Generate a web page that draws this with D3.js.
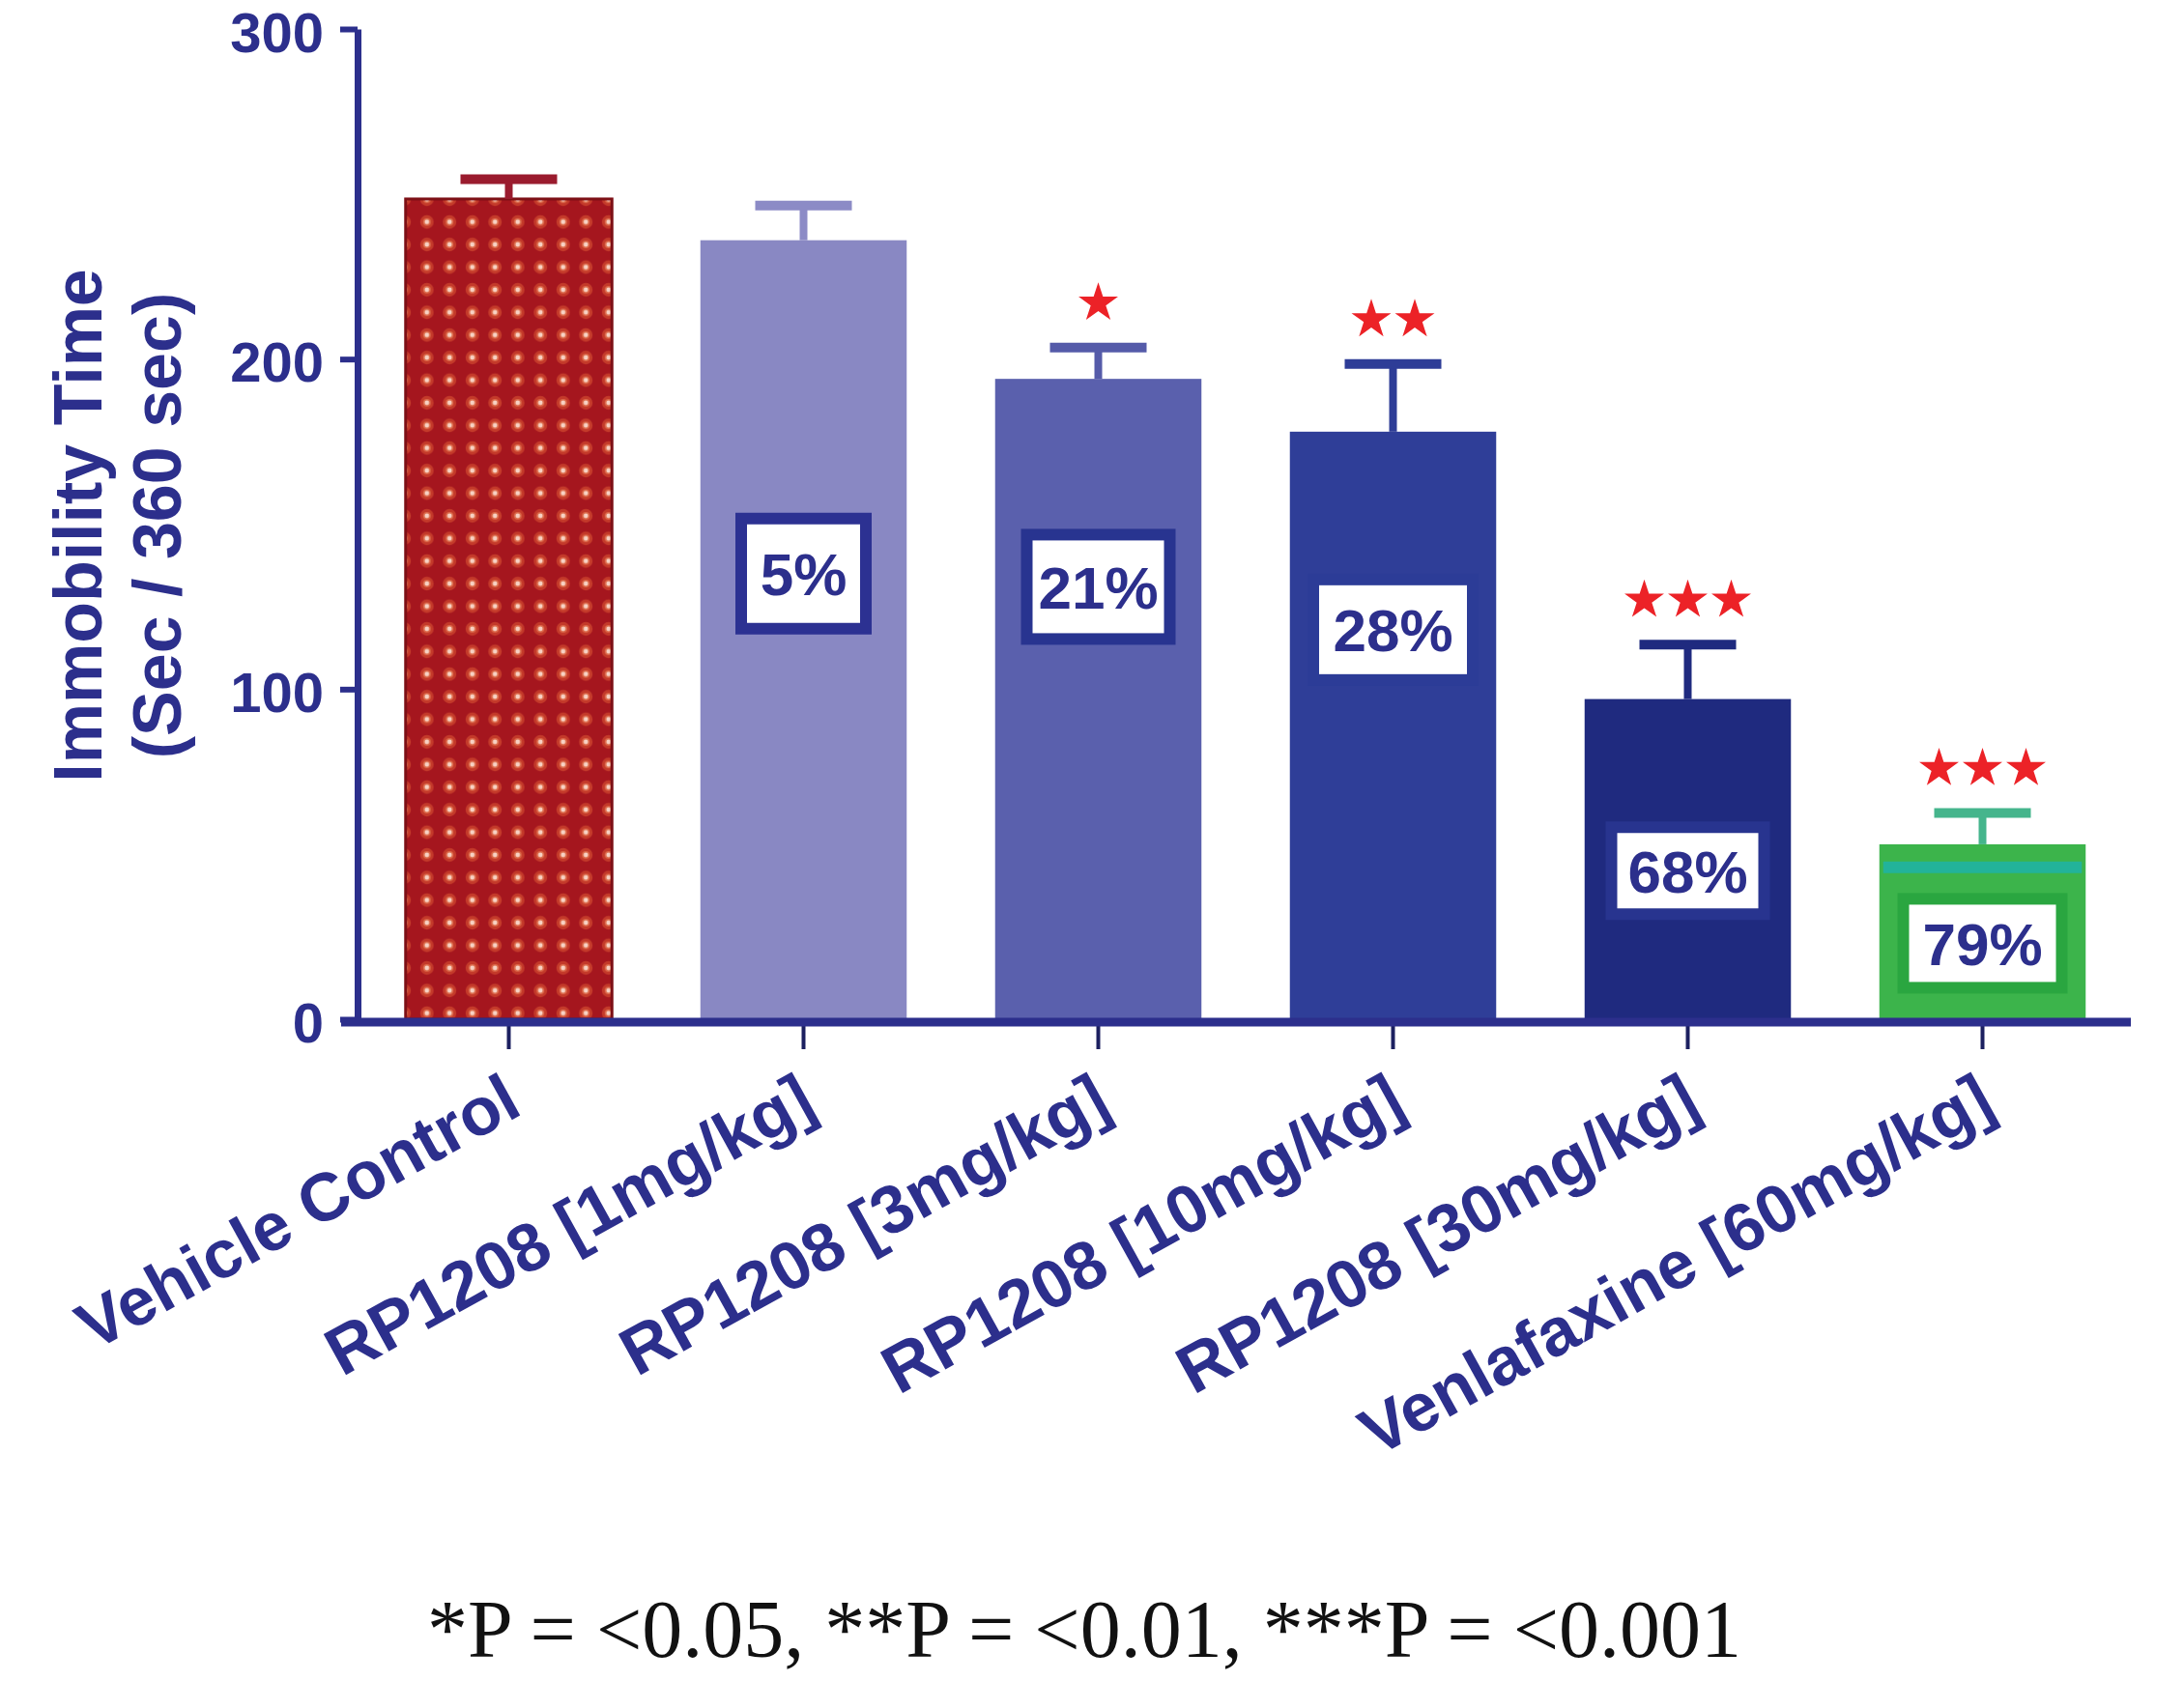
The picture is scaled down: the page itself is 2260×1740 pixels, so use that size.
<!DOCTYPE html>
<html><head><meta charset="utf-8">
<script src="https://cdn.jsdelivr.net/npm/d3@7"></script>
<style>body{margin:0;background:#fff;} svg{display:block}</style>
</head><body>
<svg id="chart" width="2260" height="1740"></svg>
<script>
// ---------- data ----------
const categories = ["Vehicle Control","RP1208 [1mg/kg]","RP1208 [3mg/kg]","RP1208 [10mg/kg]","RP1208 [30mg/kg]","Venlafaxine [60mg/kg]"];
const means = [248.5, 236, 194, 178, 97, 53];
const sems = [6, 10.5, 9.5, 20.5, 16.5, 9.5];
const significance = [0, 0, 1, 2, 3, 3];
const reductionLabels = ["", "5%", "21%", "28%", "68%", "79%"];
const reductionLabelAt = [null, 135, 131, 118, 45, 23];
const yTicks = [0, 100, 200, 300];
const yTitle = ["Immobility Time", "(Sec / 360 sec)"];
const footnote = "*P = <0.05, **P = <0.01, ***P = <0.001";

// ---------- styles ----------
const barFill = ["url(#dots)", "#8988c3", "#5a60ad", "#2f3e98", "#1f2a7f", "#3cb44b"];
const errColor = ["#9a1b2e", "#8c8bc6", "#555ba9", "#2e3d97", "#1f2a7f", "#45b58c"];
const boxStroke = [null, "#2c3192", "#283490", "#2c3c97", "#28348f", "#2aa640"];
const boxW = [0, 141, 160, 177, 170, 176];
const boxH = [0, 126, 120, 116, 102, 104];
const navy = "#2c2f8c";
const sans = "Liberation Sans, Arial, sans-serif";

const svg = d3.select("#chart");
const defs = svg.append("defs");
const pat = defs.append("pattern").attr("id", "dots").attr("patternUnits", "userSpaceOnUse")
  .attr("width", 23.5).attr("height", 23.4).attr("x", 430).attr("y", 218);
pat.append("rect").attr("width", 23.5).attr("height", 23.4).attr("fill", "#a5161e");
pat.append("circle").attr("cx", 11.75).attr("cy", 11.7).attr("r", 7).attr("fill", "#c43a2a");
pat.append("circle").attr("cx", 11.75).attr("cy", 11.7).attr("r", 4).attr("fill", "#dc6a4a");
pat.append("circle").attr("cx", 11.75).attr("cy", 11.7).attr("r", 2.4).attr("fill", "#f7d2c4");

const x = d3.scaleBand().domain(categories).range([374, 2204]).paddingInner(0.3).paddingOuter(0.15);
const y = d3.scaleLinear().domain([0, 300]).range([1055, 30]);
const bw = x.bandwidth();

// bars
const g = svg.append("g");
categories.forEach((c, i) => {
  g.append("rect").attr("x", x(c)).attr("y", y(means[i])).attr("width", bw)
    .attr("height", y(0) - y(means[i])).attr("fill", barFill[i])
    .attr("stroke", i === 0 ? "#7d1016" : "none").attr("stroke-width", 3);
  if (i === 5) {
    g.append("line").attr("x1", x(c) + 4).attr("x2", x(c) + bw - 4)
      .attr("y1", y(46)).attr("y2", y(46)).attr("stroke", "#22b39a").attr("stroke-width", 12);
  }
  // error bar
  const cx = x(c) + bw / 2;
  g.append("line").attr("x1", cx).attr("x2", cx).attr("y1", y(means[i])).attr("y2", y(means[i] + sems[i]))
    .attr("stroke", errColor[i]).attr("stroke-width", 8);
  g.append("line").attr("x1", cx - 50).attr("x2", cx + 50).attr("y1", y(means[i] + sems[i])).attr("y2", y(means[i] + sems[i]))
    .attr("stroke", errColor[i]).attr("stroke-width", 10);
  // stars
  const n = significance[i];
  for (let k = 0; k < n; k++) {
    g.append("path").attr("d", d3.symbol(d3.symbolStar).size(520)())
      .attr("transform", `translate(${cx + (k - (n - 1) / 2) * 45},${y(means[i] + sems[i]) - 46})`)
      .attr("fill", "#ec2227");
  }
  // percentage boxes
  if (reductionLabels[i]) {
    const by = y(reductionLabelAt[i]);
    g.append("rect").attr("x", cx - (boxW[i] - 12) / 2).attr("y", by - (boxH[i] - 12) / 2)
      .attr("width", boxW[i] - 12).attr("height", boxH[i] - 12).attr("fill", "#fff")
      .attr("stroke", boxStroke[i]).attr("stroke-width", 12);
    g.append("text").attr("x", cx).attr("y", by).attr("dy", "0.36em")
      .attr("text-anchor", "middle").attr("font-family", sans)
      .attr("font-weight", "bold").attr("font-size", 62).attr("fill", navy).text(reductionLabels[i]);
  }
});

// y axis
const yAxis = svg.append("g").attr("transform", "translate(370,0)")
  .call(d3.axisLeft(y).tickValues(yTicks).tickSize(18).tickSizeOuter(0).tickPadding(17));
yAxis.select(".domain").attr("stroke", navy).attr("stroke-width", 7);
yAxis.selectAll(".tick line").attr("stroke", navy).attr("stroke-width", 6);
yAxis.selectAll(".tick text").attr("font-family", sans).attr("dy", "0.40em")
  .attr("font-weight", "bold").attr("font-size", 58).attr("fill", navy);

// x axis
const xAxis = svg.append("g").attr("transform", "translate(0,1058)")
  .call(d3.axisBottom(x).tickSize(28).tickSizeOuter(0).tickFormat(""));
xAxis.select(".domain").remove();
xAxis.selectAll(".tick line").attr("stroke", "#1c2060").attr("stroke-width", 4);
svg.append("line").attr("x1", 353).attr("x2", 2205).attr("y1", 1058).attr("y2", 1058)
  .attr("stroke", navy).attr("stroke-width", 9);

// x labels (rotated)
svg.append("g").selectAll("text").data(categories).join("text")
  .attr("transform", d => `translate(${x(d) + bw / 2 + 16},1152) rotate(-29)`)
  .attr("text-anchor", "end").attr("font-family", sans)
  .attr("font-weight", "bold").attr("font-size", 70).attr("fill", navy).text(d => d);

// y title
const yt = svg.append("g").attr("transform", "translate(0,544) rotate(-90)");
yt.selectAll("text").data(yTitle).join("text")
  .attr("x", 0).attr("y", (d, i) => i === 0 ? 105 : 187)
  .attr("text-anchor", "middle").attr("font-family", sans)
  .attr("font-weight", "bold").attr("font-size", 70).attr("fill", navy).text(d => d);

// footnote
svg.append("text").attr("x", 1122).attr("y", 1715).attr("text-anchor", "middle")
  .attr("font-family", "Liberation Serif, Times New Roman, serif").attr("font-size", 84)
  .attr("fill", "#111").text(footnote);
</script>
</body></html>
